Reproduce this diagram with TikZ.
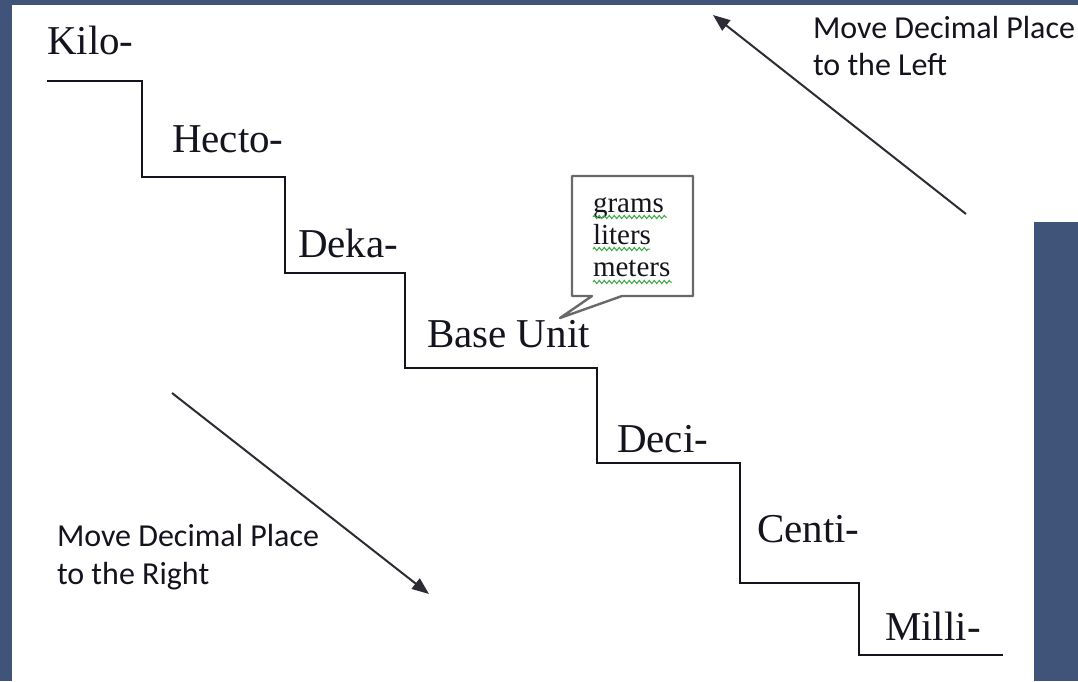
\documentclass[tikz,border=0pt]{standalone}
\usepackage{fontspec}
\setmainfont{Liberation Serif}
\newfontfamily\calibri{Carlito}
\usetikzlibrary{arrows.meta,decorations.pathmorphing}
\definecolor{slate}{RGB}{64,83,120}
\definecolor{ink}{RGB}{20,20,30}
\definecolor{calloutgray}{RGB}{105,105,105}
\definecolor{spellgreen}{RGB}{60,170,70}
\tikzset{
  steplabel/.style={anchor=base west,inner sep=0pt,outer sep=0pt,text=ink,
    font=\fontsize{41}{41}\selectfont},
  dirnote/.style={anchor=base west,inner sep=0pt,outer sep=0pt,text=ink,
    font=\calibri\fontsize{32}{32}\selectfont},
  unitword/.style={anchor=base west,inner sep=0pt,outer sep=0pt,text=ink,
    font=\fontsize{29}{29}\selectfont},
  stairline/.style={draw=ink,line width=2pt,line join=miter},
  dirarrow/.style={draw=ink!90,line width=2pt,
    -{Triangle[length=17pt,width=13pt]}},
  spellmark/.style={draw=spellgreen,line width=1pt,
    decorate,decoration={zigzag,segment length=5pt,amplitude=1.6pt}},
  bubble/.style={draw=calloutgray,line width=2.4pt,fill=white,line join=round}
}
\begin{document}
\begin{tikzpicture}[x=1pt,y=-1pt]
  % page and frame
  \useasboundingbox (0,0) rectangle (1078,681);
  \fill[slate] (0,0) rectangle (1078,681);
  \fill[white] (12,5) rectangle (1078,681);
  \fill[slate] (1034,222) rectangle (1078,681);

  % corners of the staircase
  \coordinate (s0) at (47,81);
  \coordinate (s1) at (142,81);
  \coordinate (s2) at (142,177);
  \coordinate (s3) at (285,177);
  \coordinate (s4) at (285,273);
  \coordinate (s5) at (405,273);
  \coordinate (s6) at (405,368);
  \coordinate (s7) at (597,368);
  \coordinate (s8) at (597,463);
  \coordinate (s9) at (740,463);
  \coordinate (s10) at (740,583);
  \coordinate (s11) at (859,583);
  \coordinate (s12) at (859,655);
  \coordinate (s13) at (1003,655);
  \draw[stairline] (s0) -- (s1) -- (s2) -- (s3) -- (s4) -- (s5) -- (s6)
    -- (s7) -- (s8) -- (s9) -- (s10) -- (s11) -- (s12) -- (s13);

  % prefixes on the steps
  \node[steplabel] (kilo)  at (47,54)   {Kilo-};
  \node[steplabel] (hecto) at (172,152) {Hecto-};
  \node[steplabel] (deka)  at (298,257) {Deka-};
  \node[steplabel] (base)  at (427,347) {Base Unit};
  \node[steplabel] (deci)  at (617,452) {Deci-};
  \node[steplabel] (centi) at (757,542) {Centi-};
  \node[steplabel] (milli) at (885,640) {Milli-};

  % speech bubble naming the base units
  \coordinate (tail) at (560,318);
  \draw[bubble] (572,176) -- (693,176) -- (693,296) -- (622,296)
    -- (tail) -- (592,296) -- (572,296) -- cycle;
  \node[unitword] (grams)  at (593,212) {grams};
  \node[unitword] (liters) at (593,244) {liters};
  \node[unitword] (meters) at (593,276) {meters};
  \draw[spellmark] (grams.base west)  ++(0,5) -- ++(74,0);
  \draw[spellmark] (liters.base west) ++(0,5) -- ++(57,0);
  \draw[spellmark] (meters.base west) ++(0,6) -- ++(79,0);

  % direction arrows
  \coordinate (upfrom) at (966,214);
  \coordinate (upto) at (713,15);
  \draw[dirarrow] (upfrom) -- (upto);
  \coordinate (downfrom) at (172,393);
  \coordinate (downto) at (429,594);
  \draw[dirarrow] (downfrom) -- (downto);

  % direction notes
  \node[dirnote] (leftA)  at (813,38)  {Move Decimal Place};
  \node[dirnote] (leftB)  at (813,75)  {to the Left};
  \node[dirnote] (rightA) at (57,546)  {Move Decimal Place};
  \node[dirnote] (rightB) at (57,584)  {to the Right};
\end{tikzpicture}
\end{document}
